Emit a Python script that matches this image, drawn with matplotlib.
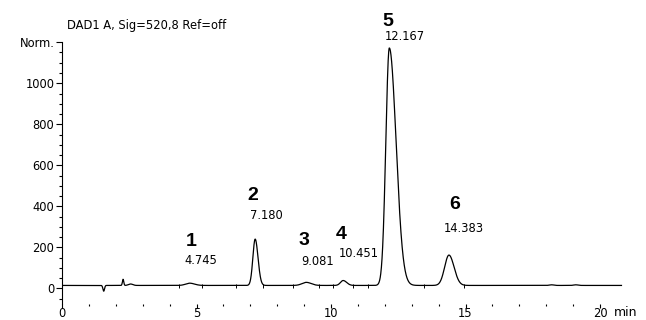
import numpy as np
import matplotlib
matplotlib.use("Agg")
import matplotlib.pyplot as plt

plt.rcParams['font.family'] = ['DejaVu Sans']

# Labelled peaks: number, retention time (min), height above baseline (mAU),
# left / right widths (min)
peak_ids = ["1", "2", "3", "4", "5", "6"]
peak_rt = [4.745, 7.180, 9.081, 10.451, 12.167, 14.383]
peak_height = [11, 226, 15, 24, 1158, 148]
peak_sigma_left = [0.15, 0.085, 0.16, 0.10, 0.13, 0.16]
peak_sigma_right = [0.18, 0.105, 0.18, 0.13, 0.25, 0.19]

# Small unlabelled features (injection disturbance, minor bumps)
minor_rt = [1.55, 2.27, 2.55, 18.2, 19.1]
minor_height = [-28, 30, 7, 3, 3]
minor_sigma = [0.03, 0.025, 0.08, 0.08, 0.08]

baseline_level = 14
run_end = 20.8

# Integration event marks along the baseline
event_rt = [4.35, 5.2, 6.45, 7.46, 8.58, 9.55, 10.07, 10.8, 11.37, 13.45, 14.96]

# Annotation placement (data coordinates)
num_dx = [0.05, -0.09, -0.09, -0.08, -0.04, 0.21]
num_y = [226, 455, 231, 260, 1301, 411]
rt_y = [138, 353, 133, 172, 1226, 294]

t = np.arange(0, run_end, 0.004)
signal = np.full_like(t, baseline_level, dtype=float)
for rt, h, sl, sr in zip(peak_rt, peak_height, peak_sigma_left, peak_sigma_right):
    s = np.where(t < rt, sl, sr)
    signal += h * np.exp(-0.5 * ((t - rt) / s) ** 2)
for rt, h, s in zip(minor_rt, minor_height, minor_sigma):
    signal += h * np.exp(-0.5 * ((t - rt) / s) ** 2)

fig = plt.figure(figsize=(6.46, 3.20), dpi=100)
ax = fig.add_axes([0.096, 0.051, 0.8745, 0.817])

ax.plot(t, signal, color="black", lw=0.9)
ax.plot(event_rt, [baseline_level - 4] * len(event_rt), linestyle="none",
        marker="|", markersize=3, markeredgewidth=0.7, color="black")

ax.set_xlim(0, 21)
ax.set_ylim(-75, 1200)

for side in ("top", "right", "bottom"):
    ax.spines[side].set_visible(False)
ax.spines["left"].set_linewidth(0.8)

ax.set_yticks([0, 200, 400, 600, 800, 1000, 1200])
ax.set_yticklabels(["0", "200", "400", "600", "800", "1000", "Norm."])
ax.set_yticks(np.arange(-50, 1200, 50), minor=True)
ax.set_xticks([0, 5, 10, 15, 20])
ax.set_xticks(np.arange(0, 21, 1), minor=True)

ax.tick_params(axis="y", which="major", length=4.5, width=0.8, labelsize=8.3, pad=1)
ax.tick_params(axis="y", which="minor", length=2.2, width=0.8)
ax.tick_params(axis="x", which="major", length=3.2, width=0.8, labelsize=8.3, pad=-1.0)
ax.tick_params(axis="x", which="minor", length=1.2, width=0.8)

for pid, rt, dx, ny, ry in zip(peak_ids, peak_rt, num_dx, num_y, rt_y):
    ax.text(rt + dx, ny, pid, ha="center", va="center", fontsize=14,
            fontweight="bold", family=["Liberation Sans"], clip_on=False)
    ax.text(rt - 0.18, ry, f"{rt:.3f}", ha="left", va="center", fontsize=8.3,
            clip_on=False)

fig.text(67 / 646, 1 - 26 / 320, "DAD1 A, Sig=520,8 Ref=off", ha="left",
         va="center", fontsize=8.3)
fig.text(614 / 646, 1 - 312 / 320, "min", ha="left", va="center", fontsize=9)

fig.savefig("out.png", dpi=100)
